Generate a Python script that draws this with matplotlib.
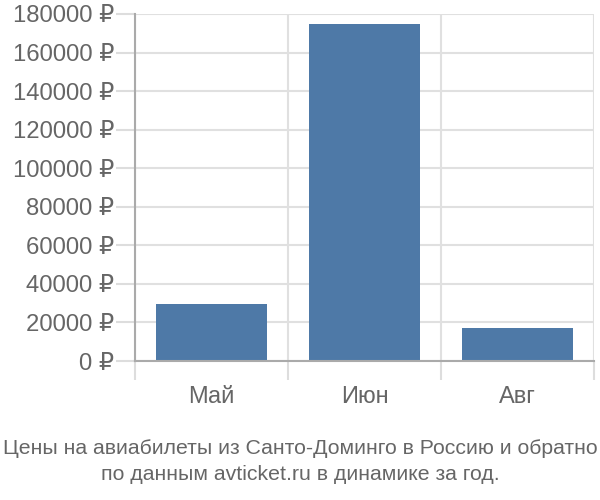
from matplotlib import pyplot as plt

months = ["Май", "Июн", "Авг"]
prices = [29700, 174700, 17300]
yticks = list(range(0, 180001, 20000))
caption = "Цены на авиабилеты из Санто-Доминго в Россию и обратно\nпо данным avticket.ru в динамике за год."

plt.rcParams['font.family'] = ['Liberation Sans', 'DejaVu Sans']

fig = plt.figure(figsize=(6, 5), dpi=100)
ax = fig.add_axes([0.225, 0.278, 0.765, 0.694])

x = list(range(len(months)))
ax.bar(x, prices, width=0.72, color='#4e79a7', zorder=3)

ax.set_xlim(-0.5, len(months) - 0.5)
ax.set_ylim(0, 180000)

ax.set_yticks(yticks)
ax.set_yticklabels(["%d ₽" % v for v in yticks])
ax.tick_params(axis='y', length=14, color='#dddddd', width=1.5,
               labelsize=17.2, labelcolor='#666666', pad=1)
ax.grid(axis='y', color='#e0e0e0', linewidth=1.5, zorder=0)

# category boundaries as minor ticks with vertical grid
bounds = [i - 0.5 for i in range(len(months) + 1)]
ax.set_xticks(bounds, minor=True)
ax.set_xticks(x)
ax.set_xticklabels(months)
ax.tick_params(axis='x', which='major', length=0, labelsize=17,
               labelcolor='#666666', pad=18)
ax.tick_params(axis='x', which='minor', length=14, color='#dddddd', width=1.5)
ax.grid(axis='x', which='minor', color='#e0e0e0', linewidth=1.5, zorder=0)

for s in ['top', 'right']:
    ax.spines[s].set_visible(False)
ax.spines['left'].set_color('#aaaaaa')
ax.spines['bottom'].set_color('#aaaaaa')
ax.spines['left'].set_linewidth(1.5)
ax.spines['bottom'].set_linewidth(1.5)
ax.spines['bottom'].set_zorder(4)

fig.text(0.5, 0.077, caption, ha='center', va='center', fontsize=15.3,
         color='#666666', linespacing=1.5,
         family=['Liberation Sans Narrow', 'Liberation Sans', 'DejaVu Sans'])

fig.savefig("out.png", dpi=100)
